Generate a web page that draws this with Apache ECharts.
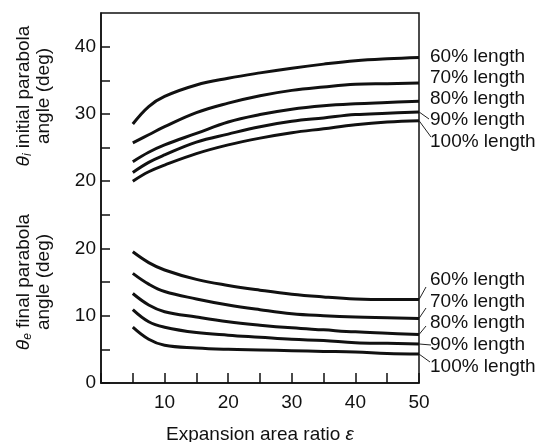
<!DOCTYPE html>
<html>
<head>
<meta charset="utf-8">
<script src="https://cdn.jsdelivr.net/npm/echarts/dist/echarts.min.js"></script>
<style>
html, body { margin: 0; padding: 0; background: #fff; }
#chart { width: 545px; height: 442px; }
</style>
</head>
<body>
<div id="chart"></div>
<script>
// expansion area ratio
var ratio = [5, 7.5, 10, 15, 20, 25, 30, 35, 40, 45, 50];
var lengthNames = ['60% length', '70% length', '80% length', '90% length', '100% length'];

// initial parabola angle theta_i (deg)
var initial60  = [28.5, 31.1, 32.6, 34.3, 35.3, 36.1, 36.8, 37.4, 37.9, 38.2, 38.4];
var initial70  = [25.7, 26.9, 28.1, 30.2, 31.6, 32.7, 33.5, 34.0, 34.4, 34.5, 34.6];
var initial80  = [22.9, 24.3, 25.4, 27.1, 28.8, 29.9, 30.7, 31.2, 31.5, 31.7, 31.9];
var initial90  = [21.3, 22.8, 23.9, 25.8, 27.0, 28.1, 28.9, 29.4, 29.9, 30.1, 30.3];
var initial100 = [20.0, 21.4, 22.4, 24.1, 25.4, 26.4, 27.2, 27.8, 28.4, 28.8, 29.0];

// final parabola angle theta_e (deg)
var final60  = [19.5, 17.9, 16.8, 15.4, 14.5, 13.8, 13.2, 12.8, 12.5, 12.4, 12.4];
var final70  = [16.3, 14.7, 13.6, 12.5, 11.6, 10.9, 10.3, 10.0, 9.8, 9.7, 9.6];
var final80  = [13.3, 11.6, 10.6, 9.8, 9.1, 8.6, 8.2, 7.9, 7.6, 7.4, 7.2];
var final90  = [10.9, 9.1, 8.3, 7.5, 7.1, 6.8, 6.5, 6.3, 6.0, 5.9, 5.8];
var final100 = [8.3, 6.5, 5.6, 5.2, 5.0, 4.9, 4.8, 4.7, 4.6, 4.4, 4.3];

// the upper panel sits 10 units up on the shared axis
var initialShift = 10;
var yTickText = ['0', '10', '20', '20', '30', '40'];

var FONT = '"Liberation Sans", Arial, sans-serif';
var chart = echarts.init(document.getElementById('chart'));

function pairs(vals, shift) {
    return ratio.map(function (r, i) { return [r, vals[i] + shift]; });
}

var initialSets = [initial60, initial70, initial80, initial90, initial100];
var finalSets = [final60, final70, final80, final90, final100];

var series = [];
initialSets.forEach(function (s, i) {
    series.push({ name: 'i ' + lengthNames[i], data: pairs(s, initialShift) });
});
finalSets.forEach(function (s, i) {
    series.push({ name: 'e ' + lengthNames[i], data: pairs(s, 0) });
});
series = series.map(function (s) {
    return {
        name: s.name,
        type: 'line',
        data: s.data,
        smooth: 0.4,
        symbol: 'none',
        lineStyle: { color: '#111', width: 3 },
        silent: true,
        animation: false
    };
});

chart.setOption({
    animation: false,
    grid: {
        left: 101, right: 126, top: 13, bottom: 59,
        outerBoundsMode: 'none',
        show: true, borderColor: '#111', borderWidth: 1.5, backgroundColor: 'transparent'
    },
    xAxis: {
        type: 'value', min: 0, max: 50, interval: 5,
        axisLine: { lineStyle: { color: '#111', width: 1.5 } },
        axisTick: { inside: true, length: 10, lineStyle: { color: '#111', width: 1.5 } },
        splitLine: { show: false },
        axisLabel: {
            color: '#111', fontSize: 19, fontFamily: FONT, margin: 10,
            formatter: function (v) { return (v > 0 && v % 10 === 0) ? String(v) : ''; }
        },
        name: '{n|Expansion area ratio }{e|\u03b5}',
        nameLocation: 'middle', nameGap: 42,
        nameTextStyle: {
            color: '#111', fontSize: 19, fontFamily: FONT,
            rich: {
                n: { fontSize: 19, fontFamily: FONT, color: '#111' },
                e: { fontSize: 19, fontFamily: FONT, color: '#111', fontStyle: 'italic' }
            }
        }
    },
    yAxis: {
        type: 'value', min: 0, max: 55, interval: 5,
        axisLine: { show: true, lineStyle: { color: '#111', width: 1.5 } },
        axisTick: { show: true, inside: true, length: 9, lineStyle: { color: '#111', width: 1.5 } },
        splitLine: { show: false },
        axisLabel: {
            color: '#111', fontSize: 19, fontFamily: FONT, margin: 5,
            showMaxLabel: false,
            formatter: function (v) { return v % 10 === 0 ? (yTickText[v / 10] || '') : ''; }
        }
    },
    series: series
});

// right-hand labels with short leader lines
var labelY = [57, 78, 99, 120, 142, 280, 302, 323, 345, 367];
var leaderEnd = [null, null, null, [429, 119], [431, 137], [426, 287], [426, 308], [426, 326], [431, 345], [430, 362]];
var graphics = [];
series.forEach(function (s, i) {
    var last = s.data[s.data.length - 1];
    var p = chart.convertToPixel({ gridIndex: 0 }, last);
    graphics.push({
        type: 'text', x: 430, y: labelY[i], silent: true,
        style: { text: lengthNames[i % 5], font: '19px ' + FONT, fill: '#111', textAlign: 'left', textVerticalAlign: 'middle' }
    });
    if (leaderEnd[i]) {
        graphics.push({
            type: 'line', silent: true,
            shape: { x1: p[0], y1: p[1], x2: leaderEnd[i][0], y2: leaderEnd[i][1] },
            style: { stroke: '#222', lineWidth: 1 }
        });
    }
});

// axis titles for the two panels
var titleRich = {
    t: { fontSize: 19, fontFamily: FONT, fontStyle: 'italic', fill: '#111' },
    s: { fontSize: 12, fontFamily: FONT, fontStyle: 'italic', fill: '#111', verticalAlign: 'bottom', padding: [8, 0, 0, 0] },
    n: { fontSize: 19, fontFamily: FONT, fill: '#111', lineHeight: 20 }
};
graphics.push({
    type: 'text', x: 34, y: 96, rotation: Math.PI / 2, silent: true,
    style: { text: '{t|\u03b8}{s|i}{n| initial parabola}\n{n|angle (deg)}', rich: titleRich, align: 'center', verticalAlign: 'middle', fill: '#111' }
});
graphics.push({
    type: 'text', x: 34, y: 282, rotation: Math.PI / 2, silent: true,
    style: { text: '{t|\u03b8}{s|e}{n| final parabola}\n{n|angle (deg)}', rich: titleRich, align: 'center', verticalAlign: 'middle', fill: '#111' }
});

chart.setOption({ graphic: graphics });
</script>
</body>
</html>
